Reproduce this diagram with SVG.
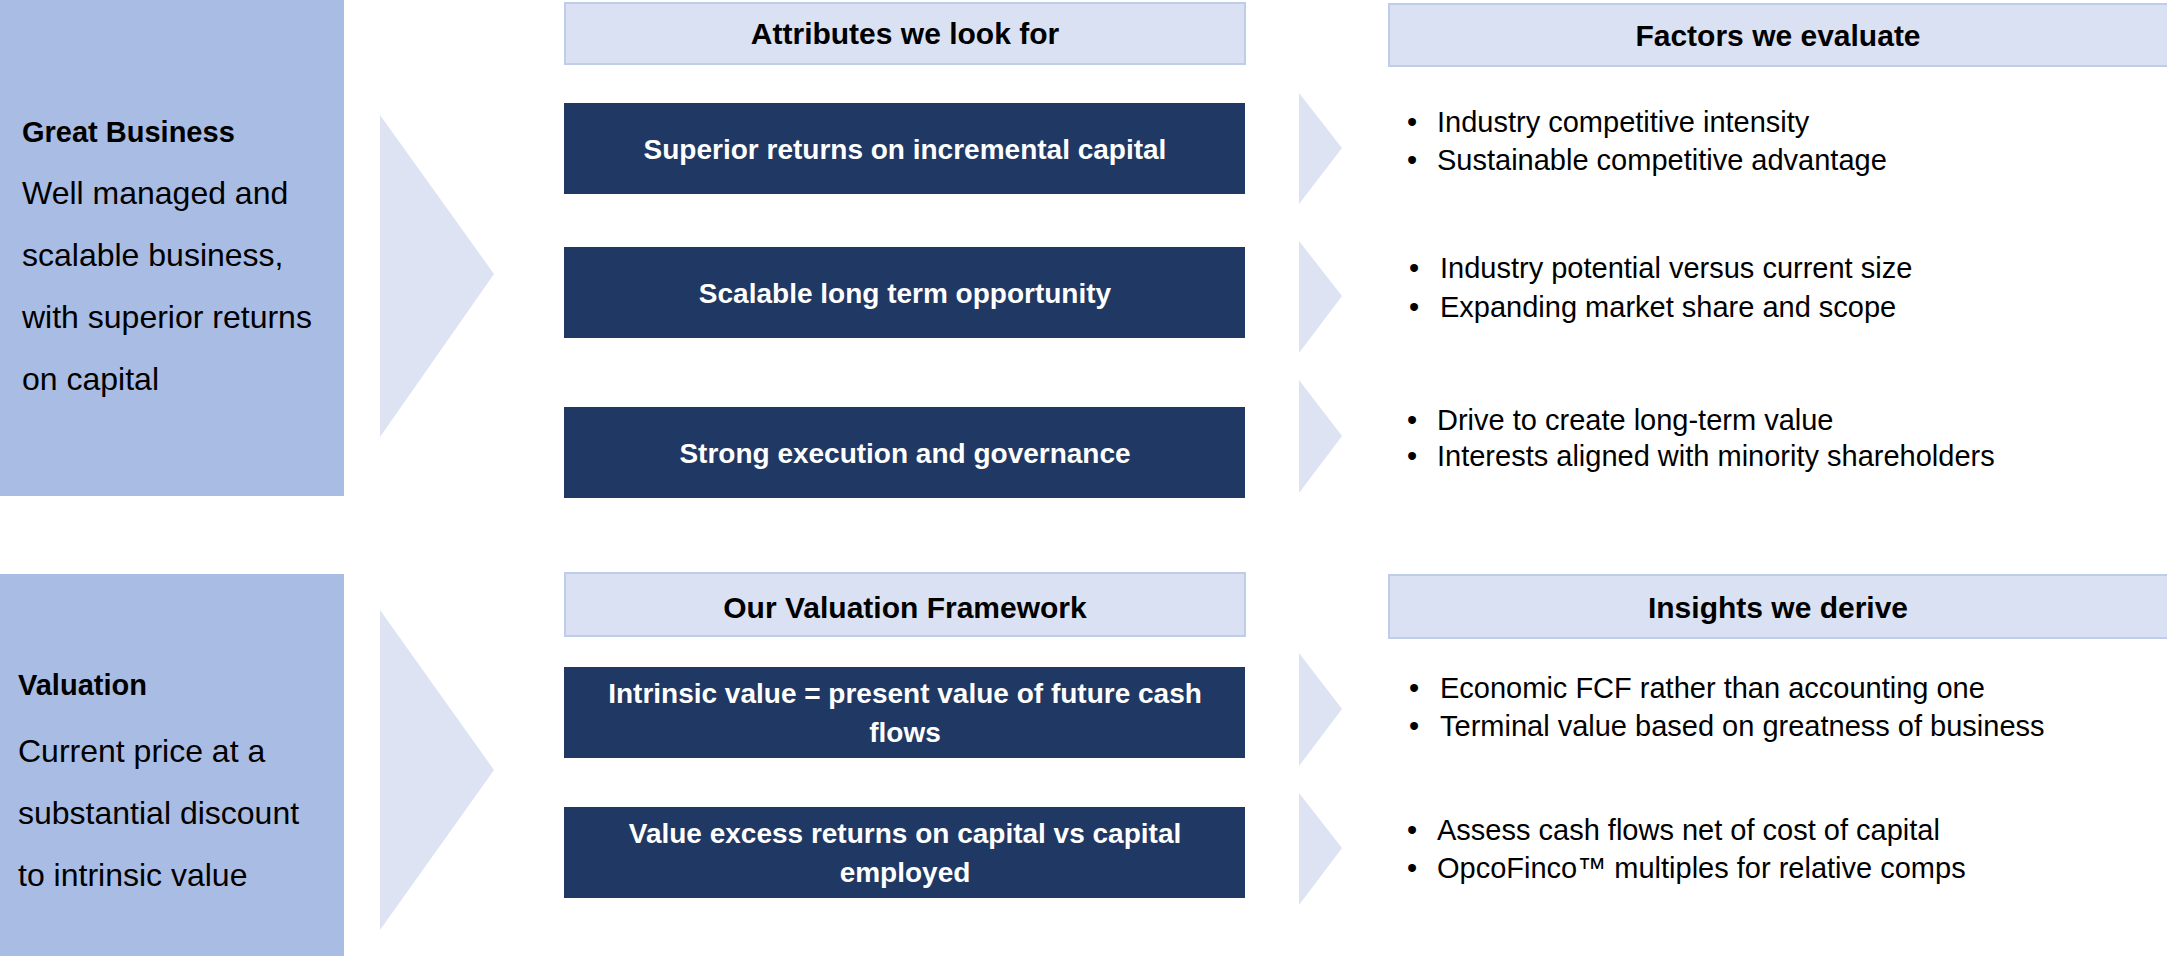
<svg xmlns="http://www.w3.org/2000/svg" width="2167" height="956" viewBox="0 0 2167 956">
<style>
.side{fill:#A9BCE3}
.hdr{fill:#DAE1F2;stroke:#BFCDEB;stroke-width:2}
.dark{fill:#203864}
.chev{fill:#DDE3F3}
.t{font-family:"Liberation Sans",Arial,sans-serif;fill:#000}
.b{font-weight:bold}
.w{fill:#fff;font-weight:bold;font-size:28px}
.h{font-weight:bold;font-size:30px}
.lt{font-size:32px}
.bl{font-size:29px}
</style>
<rect width="2167" height="956" fill="#fff"/>
<g id="connectors">
<polygon class="chev" points="380,115 494,274 380,437"/>
<polygon class="chev" points="380,610 494,770 380,930"/>
<polygon class="chev" points="1299,93 1342,148 1299,204"/>
<polygon class="chev" points="1299,241 1342,296 1299,353"/>
<polygon class="chev" points="1299,380 1342,436 1299,493"/>
<polygon class="chev" points="1299,653 1342,709 1299,766"/>
<polygon class="chev" points="1299,793 1342,848 1299,905"/>
</g>
<g id="great-business">
<rect class="side" x="0" y="0" width="344" height="496"/>
<text class="t b" x="22" y="142" font-size="29">Great Business</text>
<text class="t lt" x="22" y="204">Well managed and</text>
<text class="t lt" x="22" y="266">scalable business,</text>
<text class="t lt" x="22" y="328">with superior returns</text>
<text class="t lt" x="22" y="390">on capital</text>
</g>
<g id="valuation">
<rect class="side" x="0" y="574" width="344" height="382"/>
<text class="t b" x="18" y="695" font-size="29">Valuation</text>
<text class="t lt" x="18" y="762">Current price at a</text>
<text class="t lt" x="18" y="824">substantial discount</text>
<text class="t lt" x="18" y="886">to intrinsic value</text>
</g>
<g id="hdr-attributes">
<rect class="hdr" x="565" y="3" width="680" height="61"/>
<text class="t h" x="905" y="44" text-anchor="middle">Attributes we look for</text>
</g>
<g id="box-superior">
<rect class="dark" x="564" y="103" width="681" height="91"/>
<text class="t w" x="905" y="159" text-anchor="middle">Superior returns on incremental capital</text>
</g>
<g id="box-scalable">
<rect class="dark" x="564" y="247" width="681" height="91"/>
<text class="t w" x="905" y="303" text-anchor="middle">Scalable long term opportunity</text>
</g>
<g id="box-execution">
<rect class="dark" x="564" y="407" width="681" height="91"/>
<text class="t w" x="905" y="463" text-anchor="middle">Strong execution and governance</text>
</g>
<g id="hdr-factors">
<rect class="hdr" x="1389" y="4" width="780" height="62"/>
<text class="t h" x="1778" y="46" text-anchor="middle">Factors we evaluate</text>
</g>
<g id="factors-1">
<text class="t bl" x="1407" y="132">•</text>
<text class="t bl" x="1437" y="132">Industry competitive intensity</text>
<text class="t bl" x="1407" y="170">•</text>
<text class="t bl" x="1437" y="170">Sustainable competitive advantage</text>
</g>
<g id="factors-2">
<text class="t bl" x="1409" y="278">•</text>
<text class="t bl" x="1440" y="278">Industry potential versus current size</text>
<text class="t bl" x="1409" y="317">•</text>
<text class="t bl" x="1440" y="317">Expanding market share and scope</text>
</g>
<g id="factors-3">
<text class="t bl" x="1407" y="430">•</text>
<text class="t bl" x="1437" y="430">Drive to create long-term value</text>
<text class="t bl" x="1407" y="466">•</text>
<text class="t bl" x="1437" y="466">Interests aligned with minority shareholders</text>
</g>
<g id="hdr-valuation-framework">
<rect class="hdr" x="565" y="573" width="680" height="63"/>
<text class="t h" x="905" y="618" text-anchor="middle">Our Valuation Framework</text>
</g>
<g id="box-intrinsic">
<rect class="dark" x="564" y="667" width="681" height="91"/>
<text class="t w" x="905" y="703" text-anchor="middle">Intrinsic value = present value of future cash</text>
<text class="t w" x="905" y="742" text-anchor="middle">flows</text>
</g>
<g id="box-excess">
<rect class="dark" x="564" y="807" width="681" height="91"/>
<text class="t w" x="905" y="843" text-anchor="middle">Value excess returns on capital vs capital</text>
<text class="t w" x="905" y="882" text-anchor="middle">employed</text>
</g>
<g id="hdr-insights">
<rect class="hdr" x="1389" y="575" width="780" height="63"/>
<text class="t h" x="1778" y="618" text-anchor="middle">Insights we derive</text>
</g>
<g id="insights-1">
<text class="t bl" x="1409" y="698">•</text>
<text class="t bl" x="1440" y="698">Economic FCF rather than accounting one</text>
<text class="t bl" x="1409" y="736">•</text>
<text class="t bl" x="1440" y="736">Terminal value based on greatness of business</text>
</g>
<g id="insights-2">
<text class="t bl" x="1407" y="840">•</text>
<text class="t bl" x="1437" y="840">Assess cash flows net of cost of capital</text>
<text class="t bl" x="1407" y="878">•</text>
<text class="t bl" x="1437" y="878">OpcoFinco™ multiples for relative comps</text>
</g>
</svg>
